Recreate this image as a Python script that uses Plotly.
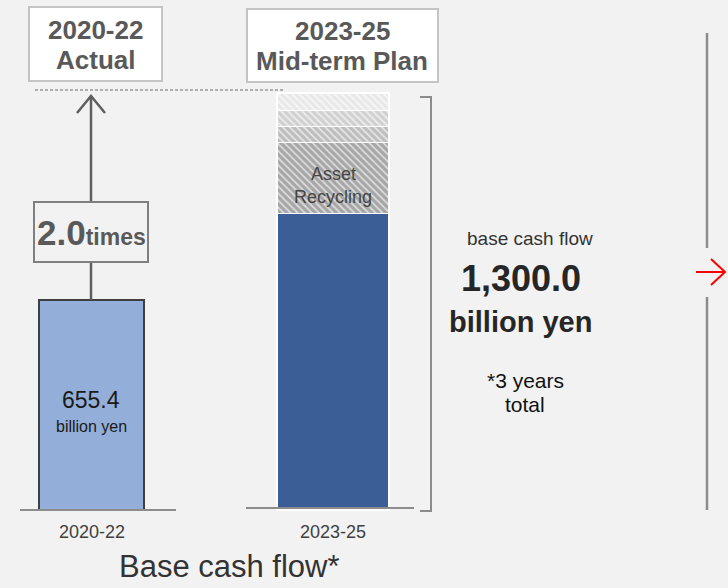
import plotly.graph_objects as go

# ---------------- data ----------------
periods = ["2020-22", "2023-25"]
actual_value = [655.4]                      # 2020-22 base cash flow
plan_segments = ["Base", "Asset Recycling", "Other 1", "Other 2", "Other 3"]
plan_values = [925, 220, 50, 50, 55]        # 2023-25 stacked (total 1,300)
plan_total = 1300.0
multiple_label = "2.0"

W, H = 728, 588
BASE_PX = 510.0          # pixel of value 0
K = 417.0 / 1300.0       # pixels per unit
Y0 = -(H - BASE_PX) / K
Y1 = BASE_PX / K
CAT_PX = 241.5
X0 = -91.5 / CAT_PX
X1 = (W - 91.5) / CAT_PX

FONT = "Liberation Sans, Arial, sans-serif"
BG = "#f2f2f2"

def px(x):
    return x / W

def py(y):
    return 1 - y / H

def vy(v):
    return BASE_PX - v * K

fig = go.Figure()

fig.add_trace(go.Bar(
    x=[periods[0]], y=actual_value, width=0.435,
    marker=dict(color="#93aed8", line=dict(color="#3f3f3f", width=2.5)),
    hoverinfo="skip"))

seg_colors = ["#3b5e96", "#a6a6a6", "#bdbdbd", "#d0d0d0", "#e8e8e8"]
for i, (name, val) in enumerate(zip(plan_segments, plan_values)):
    marker = dict(color=seg_colors[i], line=dict(color="white", width=1.5))
    if i > 0:
        marker["pattern"] = dict(shape="\\", fgcolor="white", bgcolor=seg_colors[i],
                                 fgopacity=0.6, size=5, solidity=0.35,
                                 fillmode="replace")
    fig.add_trace(go.Bar(x=[periods[1]], y=[val], width=0.465, name=name,
                         marker=marker, hoverinfo="skip"))

shapes = []
line_gray = "#8c8c8c"
# baselines
shapes.append(dict(type="line", xref="paper", yref="y", x0=px(20), x1=px(176),
                   y0=0, y1=0, line=dict(color=line_gray, width=2)))
shapes.append(dict(type="line", xref="paper", yref="y", x0=px(246), x1=px(414),
                   y0=2 / K, y1=2 / K, line=dict(color=line_gray, width=2)))
# dashed level line
shapes.append(dict(type="line", xref="paper", yref="y", x0=px(35), x1=px(285),
                   y0=plan_total + 3 / K, y1=plan_total + 3 / K,
                   line=dict(color="#6a6a6a", width=1, dash="3px,2px")))
# arrow from bar 1 to level
ax = 91.0
shapes.append(dict(type="line", xref="paper", yref="y", x0=px(ax), x1=px(ax),
                   y0=actual_value[0], y1=(BASE_PX - 262) / K,
                   line=dict(color="#5f5f5f", width=2.5)))
shapes.append(dict(type="line", xref="paper", yref="y", x0=px(ax), x1=px(ax),
                   y0=(BASE_PX - 202) / K, y1=plan_total - 5 / K,
                   line=dict(color="#5f5f5f", width=2.5)))
tip = vy(plan_total) + 3
shapes.append(dict(type="path", xref="paper", yref="paper",
                   path=f"M {px(ax-14)} {py(tip+17)} L {px(ax)} {py(tip)} L {px(ax+14)} {py(tip+17)}",
                   line=dict(color="#5f5f5f", width=2.5)))
# 2.0 times box
shapes.append(dict(type="rect", xref="paper", yref="paper", x0=px(34), x1=px(148),
                   y0=py(202), y1=py(262), fillcolor=BG,
                   line=dict(color="#7f7f7f", width=2)))
# title boxes
shapes.append(dict(type="rect", xref="paper", yref="paper", x0=px(29), x1=px(162),
                   y0=py(7), y1=py(81), fillcolor="white",
                   line=dict(color="#c4c4c4", width=2)))
shapes.append(dict(type="rect", xref="paper", yref="paper", x0=px(247), x1=px(438),
                   y0=py(9), y1=py(82), fillcolor="white",
                   line=dict(color="#c4c4c4", width=2)))
# bracket
br = 431
shapes.append(dict(type="path", xref="paper", yref="paper",
                   path=f"M {px(420)} {py(97)} L {px(br)} {py(97)} L {px(br)} {py(511)} L {px(420)} {py(511)}",
                   line=dict(color=line_gray, width=2)))
# right vertical line with red arrow
shapes.append(dict(type="line", xref="paper", yref="paper", x0=px(707), x1=px(707),
                   y0=py(33), y1=py(248), line=dict(color=line_gray, width=2.5)))
shapes.append(dict(type="line", xref="paper", yref="paper", x0=px(707), x1=px(707),
                   y0=py(297), y1=py(510), line=dict(color=line_gray, width=2.5)))
shapes.append(dict(type="line", xref="paper", yref="paper", x0=px(696), x1=px(725),
                   y0=py(272), y1=py(272), line=dict(color="#ff0000", width=2)))
shapes.append(dict(type="path", xref="paper", yref="paper",
                   path=f"M {px(711)} {py(259)} L {px(725)} {py(272)} L {px(711)} {py(285)}",
                   line=dict(color="#ff0000", width=2)))

ann = []
def text(x, y, t, size, color="#333333", bold=False):
    if bold:
        t = f"<b>{t}</b>"
    ann.append(dict(xref="paper", yref="paper", x=px(x), y=py(y), text=t,
                    showarrow=False, xanchor="center", yanchor="middle",
                    font=dict(family=FONT, size=size, color=color)))

text(95, 30, "2020-22", 26, "#595959", True)
text(95, 60, "Actual", 26, "#595959", True)
text(342, 31, "2023-25", 26, "#595959", True)
text(342, 61, "Mid-term Plan", 26, "#595959", True)
ann.append(dict(xref="paper", yref="paper", x=px(91), y=py(232),
                text=f"<b>{multiple_label}<span style='font-size:23px'>times</span></b>",
                showarrow=False, xanchor="center", yanchor="middle",
                font=dict(family=FONT, size=35, color="#595959")))
text(91, 400, f"{actual_value[0]:.1f}", 23, "#1a1a1a")
text(91, 426, "billion yen", 16, "#1a1a1a")
text(333, 174, "Asset", 18, "#454545")
text(333, 197, "Recycling", 18, "#454545")
text(530, 238, "base cash flow", 19, "#333333")
text(521, 278, f"{plan_total:,.1f}", 36, "#262626", True)
text(520, 322, "billion yen", 29, "#262626", True)
text(525, 380, "*3 years", 21, "#111111")
text(525, 404, "total", 21, "#111111")
for p in periods:
    ann.append(dict(xref="x", yref="paper", x=p, y=py(532), text=p, showarrow=False,
                    xanchor="center", yanchor="middle",
                    font=dict(family=FONT, size=18, color="#404040")))
text(229, 566, "Base cash flow*", 31, "#333333")

fig.update_layout(
    width=W, height=H, margin=dict(l=0, r=0, t=0, b=0),
    paper_bgcolor=BG, plot_bgcolor=BG,
    barmode="stack", showlegend=False, hovermode=False,
    xaxis=dict(type="category", categoryorder="array", categoryarray=periods,
               range=[X0, X1], visible=False, fixedrange=True),
    yaxis=dict(range=[Y0, Y1], visible=False, fixedrange=True),
    shapes=shapes, annotations=ann,
)

fig.write_html("out.html")
